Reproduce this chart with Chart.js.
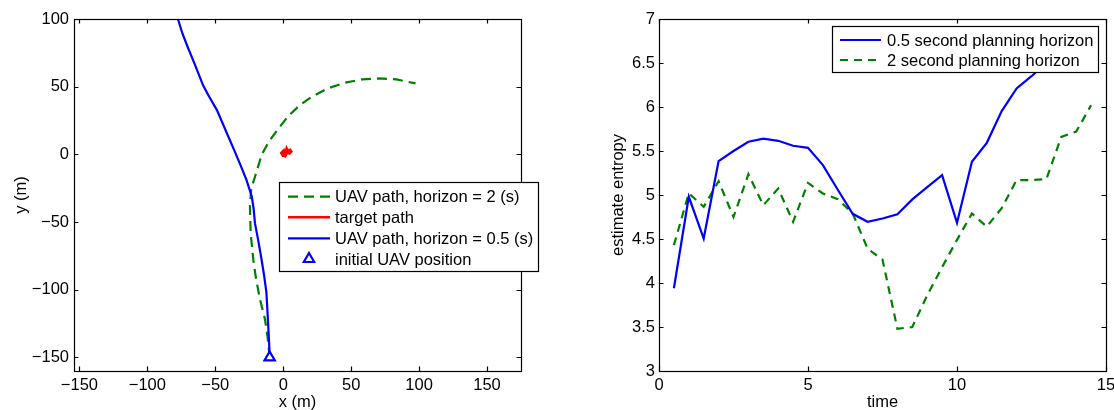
<!DOCTYPE html>
<html><head><meta charset="utf-8">
<script src="https://cdn.jsdelivr.net/npm/chart.js@4.4.0/dist/chart.umd.min.js"></script>
<style>
html,body{margin:0;padding:0;background:#fff;overflow:hidden}
#wrap{position:relative;width:1114px;height:410px}
canvas{position:absolute;top:0}
#c1{left:0}
#c2{left:557px}
</style></head><body>
<div id="wrap"><canvas id="c1" width="557" height="410"></canvas><canvas id="c2" width="557" height="410"></canvas></div>
<script>
// ---- Left panel: paths ----
const uav2X = [-10, -11.5, -13.4, -17, -20, -22, -24, -24.5, -23.5, -20.8, -15.9, -10.7, -4.3, 3.3, 12.2, 21.1, 32.5, 45.3, 58, 70.7, 83.4, 97.4];
const uav2Y = [-150, -135, -122, -107.5, -92, -78, -58, -38.6, -25, -16.5, -0.4, 9.3, 18, 27.8, 36.4, 42.6, 48.7, 52.9, 55.4, 56.1, 55.4, 52.4];
const targetX = [0, -1.5, 0.5, 1.5, 2.5, 3.5, 5, 6, 4.5, 3, 1.5, -0.5, 0, 2, 4];
const targetY = [-1.5, 1, 3, 0.5, 4.5, 2.5, 3.5, 2, 0.5, 1.5, -1.5, -0.5, 2, 2, 1.5];
const uav05X = [-9.9, -10.6, -11.5, -12.4, -14, -15.9, -18.5, -20.8, -21.8, -23.2, -27, -31, -36.1, -42.5, -48.8, -55.2, -59, -65.3, -70.4, -74.2, -77.5];
const uav05Y = [-150, -135, -118, -102, -90, -78, -63, -51, -40, -31, -19, -9, 3.2, 18, 32.7, 43.8, 51, 67, 79.5, 89.3, 100];
const startX = [-10];
const startY = [-150];
const leftXTicks = [-150, -100, -50, 0, 50, 100, 150];
const leftXTickLabels = ['\u2212150', '\u2212100', '\u221250', '0', '50', '100', '150'];
const leftYTicks = [-150, -100, -50, 0, 50, 100];
const leftYTickLabels = ['\u2212150', '\u2212100', '\u221250', '0', '50', '100'];
const leftLabels = ['UAV path, horizon = 2 (s)', 'target path', 'UAV path, horizon = 0.5 (s)', 'initial UAV position'];

// ---- Right panel: entropy ----
const time = [0.5, 1, 1.5, 2, 2.5, 3, 3.5, 4, 4.5, 5, 5.5, 6, 6.5, 7, 7.5, 8, 8.5, 9, 9.5, 10, 10.5, 11, 11.5, 12, 12.5, 13, 13.5, 14, 14.5];
const entropy05 = [3.94, 4.98, 4.505, 5.385, 5.50, 5.605, 5.64, 5.616, 5.56, 5.536, 5.34, 5.06, 4.786, 4.695, 4.733, 4.782, 4.95, 5.09, 5.225, 4.683, 5.377, 5.593, 5.953, 6.211, 6.35, 6.5, 6.6, 6.7, 6.8];
const entropy2 = [4.43, 5.02, 4.865, 5.157, 4.75, 5.237, 4.884, 5.074, 4.695, 5.138, 5.017, 4.953, 4.79, 4.39, 4.266, 3.48, 3.50, 3.86, 4.18, 4.49, 4.79, 4.64, 4.85, 5.17, 5.17, 5.18, 5.66, 5.72, 6.02];
const rightXTicks = [0, 5, 10, 15];
const rightXTickLabels = ['0', '5', '10', '15'];
const rightYTicks = [3, 3.5, 4, 4.5, 5, 5.5, 6, 6.5, 7];
const rightYTickLabels = ['3', '3.5', '4', '4.5', '5', '5.5', '6', '6.5', '7'];
const rightLabels = ['0.5 second planning horizon', '2 second planning horizon'];

const FONT = '"Liberation Sans", Arial, Helvetica, sans-serif';
const FS = 16.5;
Chart.defaults.font.family = FONT;
Chart.defaults.font.size = FS;
Chart.defaults.color = '#000';

const zip = (xs, ys) => xs.map((x, i) => ({x, y: ys[i]}));

const frame = {
  id: 'frame',
  afterDatasetsDraw(chart) {
    const {ctx, chartArea: a, scales: {x, y}} = chart;
    const TL = 4.5;
    ctx.save();
    ctx.strokeStyle = '#000';
    ctx.lineWidth = 1.2;
    ctx.beginPath();
    x.ticks.forEach(t => {
      const p = Math.round(x.getPixelForValue(t.value)) + 0.5;
      ctx.moveTo(p, a.bottom); ctx.lineTo(p, a.bottom - TL);
      ctx.moveTo(p, a.top); ctx.lineTo(p, a.top + TL);
    });
    y.ticks.forEach(t => {
      const p = Math.round(y.getPixelForValue(t.value)) + 0.5;
      ctx.moveTo(a.left, p); ctx.lineTo(a.left + TL, p);
      ctx.moveTo(a.right, p); ctx.lineTo(a.right - TL, p);
    });
    ctx.stroke();
    ctx.strokeRect(Math.round(a.left) + 0.5, Math.round(a.top) + 0.5, Math.round(a.right - a.left), Math.round(a.bottom - a.top));
    ctx.restore();
  }
};

const boxLegend = {
  id: 'boxLegend',
  afterDraw(chart, args, o) {
    if (!o || !o.box) return;
    const ctx = chart.ctx;
    const [l, t, r, b] = o.box;
    ctx.save();
    ctx.fillStyle = '#fff';
    ctx.fillRect(l, t, r - l, b - t);
    ctx.strokeStyle = '#000';
    ctx.lineWidth = 1.2;
    ctx.strokeRect(l + 0.5, t + 0.5, r - l, b - t);
    ctx.font = FS + 'px ' + FONT;
    ctx.textBaseline = 'middle';
    ctx.textAlign = 'left';
    o.order.forEach((di, row) => {
      const ds = chart.data.datasets[di];
      const y = o.rows[row];
      if (ds.showLine === false) {
        ctx.save();
        ctx.strokeStyle = ds.borderColor;
        ctx.fillStyle = ds.backgroundColor;
        ctx.lineWidth = ds.borderWidth;
        Chart.helpers.drawPoint(ctx, {pointStyle: ds.pointStyle, radius: ds.pointRadius, borderWidth: ds.borderWidth, rotation: 0}, (o.sample[0] + o.sample[1]) / 2, y);
        ctx.restore();
      } else {
        ctx.save();
        ctx.strokeStyle = ds.borderColor;
        ctx.lineWidth = ds.borderWidth;
        ctx.setLineDash(ds.borderDash || []);
        ctx.beginPath();
        ctx.moveTo(o.sample[0], y);
        ctx.lineTo(o.sample[1], y);
        ctx.stroke();
        ctx.restore();
      }
      ctx.fillStyle = '#000';
      ctx.fillText(ds.label, o.textX, y + 1);
    });
    ctx.restore();
  }
};

function linScale(min, max, ticks, labels, extra) {
  return Object.assign({
    type: 'linear', min, max,
    afterBuildTicks: s => { s.ticks = ticks.map(v => ({value: v})); },
    ticks: {callback: (v) => labels[ticks.indexOf(v)] ?? '', maxRotation: 0, autoSkip: false},
    grid: {display: false, drawTicks: false},
    border: {display: false}
  }, extra);
}

// Left chart
new Chart(document.getElementById('c1'), {
  type: 'scatter',
  data: {
    datasets: [
      {label: leftLabels[0], data: zip(uav2X, uav2Y), showLine: true, borderColor: '#008000', borderWidth: 2.2, borderDash: [10, 6], pointRadius: 0, fill: false, order: 4},
      {label: leftLabels[1], data: zip(targetX, targetY), showLine: true, borderColor: '#ff0000', borderWidth: 2.5, pointRadius: 0, fill: false, order: 3},
      {label: leftLabels[2], data: zip(uav05X, uav05Y), showLine: true, borderColor: '#0000ff', borderWidth: 2.2, pointRadius: 0, fill: false, order: 2},
      {label: leftLabels[3], data: zip(startX, startY), showLine: false, pointStyle: 'triangle', pointRadius: 6, borderColor: '#0000ff', backgroundColor: '#ffffff', borderWidth: 2.2, order: 1}
    ]
  },
  options: {
    responsive: false, animation: false, events: [],
    layout: {padding: {top: 19, right: 36, left: 0, bottom: 0}},
    plugins: {
      legend: {display: false}, tooltip: {enabled: false},
      boxLegend: {box: [279, 182, 538, 271], rows: [196.7, 217.3, 238.3, 259], sample: [288, 330], textX: 335, order: [0, 1, 2, 3]}
    },
    scales: {
      x: linScale(-154, 175, leftXTicks, leftXTickLabels, {
        position: 'bottom',
        ticks: {callback: (v) => leftXTickLabels[leftXTicks.indexOf(v)] ?? '', padding: 5, maxRotation: 0, autoSkip: false},
        title: {display: true, text: 'x (m)', font: {size: FS, lineHeight: 1}, padding: {top: 0, bottom: -1}},
        afterFit: s => { s.height = 39; s.paddingLeft = 0; s.paddingRight = 0; }
      }),
      y: linScale(-160, 100, leftYTicks, leftYTickLabels, {
        position: 'left',
        ticks: {callback: (v) => leftYTickLabels[leftYTicks.indexOf(v)] ?? '', padding: 5, autoSkip: false},
        title: {display: true, text: 'y (m)', font: {size: FS, lineHeight: 1}, padding: {top: 13, bottom: 0}},
        afterFit: s => { s.width = 74; s.paddingTop = 0; s.paddingBottom = 0; }
      })
    }
  },
  plugins: [frame, boxLegend]
});

// Right chart
new Chart(document.getElementById('c2'), {
  type: 'scatter',
  data: {
    datasets: [
      {label: rightLabels[0], data: zip(time, entropy05), showLine: true, borderColor: '#0000ff', borderWidth: 2.2, pointRadius: 0, fill: false, order: 1},
      {label: rightLabels[1], data: zip(time, entropy2), showLine: true, borderColor: '#008000', borderWidth: 2.2, borderDash: [8, 6], pointRadius: 0, fill: false, order: 2}
    ]
  },
  options: {
    responsive: false, animation: false, events: [],
    layout: {padding: {top: 19, right: 8, left: 0, bottom: 0}},
    plugins: {
      legend: {display: false}, tooltip: {enabled: false},
      boxLegend: {box: [275, 26, 541, 72], rows: [40, 60], sample: [283, 324], textX: 330, order: [0, 1]}
    },
    scales: {
      x: linScale(0, 15, rightXTicks, rightXTickLabels, {
        position: 'bottom',
        ticks: {callback: (v) => rightXTickLabels[rightXTicks.indexOf(v)] ?? '', padding: 5, maxRotation: 0, autoSkip: false},
        title: {display: true, text: 'time', font: {size: FS, lineHeight: 1}, padding: {top: 0, bottom: -1}},
        afterFit: s => { s.height = 39; s.paddingLeft = 0; s.paddingRight = 0; }
      }),
      y: linScale(3, 7, rightYTicks, rightYTickLabels, {
        position: 'left',
        ticks: {callback: (v) => rightYTickLabels[rightYTicks.indexOf(v)] ?? '', padding: 4, autoSkip: false},
        title: {display: true, text: 'estimate entropy', font: {size: FS, lineHeight: 1}, padding: {top: 53, bottom: 0}},
        afterFit: s => { s.width = 102; s.paddingTop = 0; s.paddingBottom = 0; }
      })
    }
  },
  plugins: [frame, boxLegend]
});
</script>
</body></html>
